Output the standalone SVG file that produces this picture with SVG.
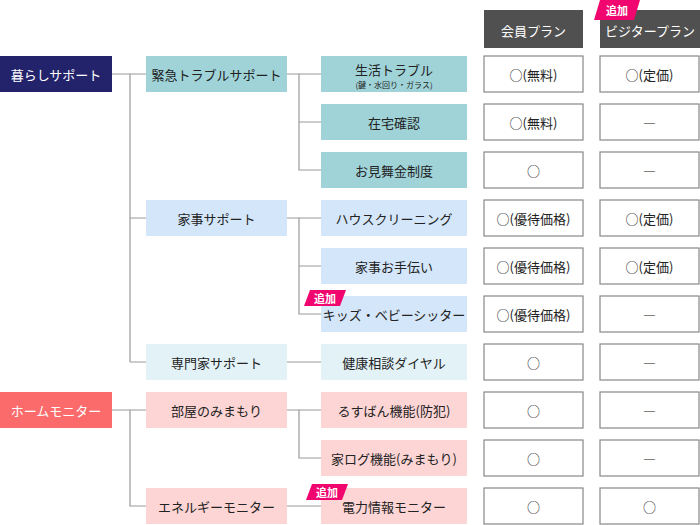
<svg xmlns="http://www.w3.org/2000/svg" width="700" height="525" viewBox="0 0 700 525">
<style>
text{font-family:"Noto Sans CJK JP","Noto Sans",sans-serif;font-size:13px;text-anchor:middle;dominant-baseline:central;fill:#222}
.w{fill:#fff}
.cell{fill:#fff;stroke:#888;stroke-width:1.2}
.ln{stroke:#999;stroke-width:1.2;fill:none}
.tag{fill:#f0066e}
.tt{fill:#fff;font-size:11px;font-weight:bold}
</style>
<rect width="700" height="525" fill="#fff"/>
<g id="connectors" class="ln">
<path d="M112 74H146M130 74V362M130 218H146M130 362H146"/>
<path d="M287 74H321M299 74V170H321M299 122H321"/>
<path d="M287 218H321M299 218V314H321M299 266H321"/>
<path d="M287 362H321"/>
<path d="M112 410H146M130 410V506H146"/>
<path d="M287 410H321M299 410V458H321"/>
<path d="M287 506H321"/>
</g>
<g id="h-member"><rect x="484" y="10" width="99" height="38" fill="#505050"/><text class="w" x="533.5" y="30">会員プラン</text></g>
<g id="h-visitor"><rect x="600" y="10" width="100" height="38" fill="#505050"/><text class="w" x="650" y="30">ビジタープラン</text>
<polygon class="tag" points="600,0 640,0 634,20 594,20"/><text class="tt" x="617" y="10">追加</text></g>
<g id="n-kurashi"><rect x="0" y="56" width="112" height="36" fill="#23236b"/><text class="w" x="56" y="74">暮らしサポート</text></g>
<g id="n-home"><rect x="0" y="392" width="112" height="36" fill="#fb6b6b"/><text class="w" x="56" y="410">ホームモニター</text></g>
<g id="n-kinkyu"><rect x="146" y="56" width="141" height="36" fill="#9fd3d8"/><text x="216.5" y="74">緊急トラブルサポート</text></g>
<g id="n-kaji"><rect x="146" y="200" width="141" height="36" fill="#d4e6f9"/><text x="216.5" y="218">家事サポート</text></g>
<g id="n-senmon"><rect x="146" y="344" width="141" height="36" fill="#e2f2f7"/><text x="216.5" y="362">専門家サポート</text></g>
<g id="n-heya"><rect x="146" y="392" width="141" height="36" fill="#fdd5d5"/><text x="216.5" y="410">部屋のみまもり</text></g>
<g id="n-energy"><rect x="146" y="488" width="141" height="36" fill="#fdd5d5"/><text x="216.5" y="506">エネルギーモニター</text></g>
<g id="n-seikatsu"><rect x="321" y="56" width="146" height="36" fill="#9fd3d8"/><text x="394" y="69">生活トラブル</text><text x="394" y="84" style="font-size:8px">(鍵・水回り・ガラス)</text></g>
<g id="n-zaitaku"><rect x="321" y="104" width="146" height="36" fill="#9fd3d8"/><text x="394" y="122">在宅確認</text></g>
<g id="n-mimai"><rect x="321" y="152" width="146" height="36" fill="#9fd3d8"/><text x="394" y="170">お見舞金制度</text></g>
<g id="n-house"><rect x="321" y="200" width="146" height="36" fill="#d4e6f9"/><text x="394" y="218">ハウスクリーニング</text></g>
<g id="n-tetsudai"><rect x="321" y="248" width="146" height="36" fill="#d4e6f9"/><text x="394" y="266">家事お手伝い</text></g>
<g id="n-kids"><rect x="321" y="296" width="146" height="36" fill="#d4e6f9"/><text x="394" y="314">キッズ・ベビーシッター</text>
<polygon class="tag" points="310,290 346,290 340,306 304,306"/><text class="tt" x="325" y="298">追加</text></g>
<g id="n-kenko"><rect x="321" y="344" width="146" height="36" fill="#e2f2f7"/><text x="394" y="362">健康相談ダイヤル</text></g>
<g id="n-bohan"><rect x="321" y="392" width="146" height="36" fill="#fdd5d5"/><text x="394" y="410">るすばん機能(防犯)</text></g>
<g id="n-kalog"><rect x="321" y="440" width="146" height="36" fill="#fdd5d5"/><text x="394" y="458">家ログ機能(みまもり)</text></g>
<g id="n-denryoku"><rect x="321" y="488" width="146" height="36" fill="#fdd5d5"/><text x="394" y="506">電力情報モニター</text>
<polygon class="tag" points="312,484 348,484 342,500 306,500"/><text class="tt" x="327" y="492">追加</text></g>
<g id="cells">
<rect class="cell" x="484" y="56" width="99" height="36"/><text x="533.5" y="74">○(無料)</text>
<rect class="cell" x="600" y="56" width="99" height="36"/><text x="649.5" y="74">○(定価)</text>
<rect class="cell" x="484" y="104" width="99" height="36"/><text x="533.5" y="122">○(無料)</text>
<rect class="cell" x="600" y="104" width="99" height="36"/><text x="649.5" y="122">―</text>
<rect class="cell" x="484" y="152" width="99" height="36"/><text x="533.5" y="170">○</text>
<rect class="cell" x="600" y="152" width="99" height="36"/><text x="649.5" y="170">―</text>
<rect class="cell" x="484" y="200" width="99" height="36"/><text x="533.5" y="218">○(優待価格)</text>
<rect class="cell" x="600" y="200" width="99" height="36"/><text x="649.5" y="218">○(定価)</text>
<rect class="cell" x="484" y="248" width="99" height="36"/><text x="533.5" y="266">○(優待価格)</text>
<rect class="cell" x="600" y="248" width="99" height="36"/><text x="649.5" y="266">○(定価)</text>
<rect class="cell" x="484" y="296" width="99" height="36"/><text x="533.5" y="314">○(優待価格)</text>
<rect class="cell" x="600" y="296" width="99" height="36"/><text x="649.5" y="314">―</text>
<rect class="cell" x="484" y="344" width="99" height="36"/><text x="533.5" y="362">○</text>
<rect class="cell" x="600" y="344" width="99" height="36"/><text x="649.5" y="362">―</text>
<rect class="cell" x="484" y="392" width="99" height="36"/><text x="533.5" y="410">○</text>
<rect class="cell" x="600" y="392" width="99" height="36"/><text x="649.5" y="410">―</text>
<rect class="cell" x="484" y="440" width="99" height="36"/><text x="533.5" y="458">○</text>
<rect class="cell" x="600" y="440" width="99" height="36"/><text x="649.5" y="458">―</text>
<rect class="cell" x="484" y="488" width="99" height="36"/><text x="533.5" y="506">○</text>
<rect class="cell" x="600" y="488" width="99" height="36"/><text x="649.5" y="506">○</text>
</g>
</svg>
